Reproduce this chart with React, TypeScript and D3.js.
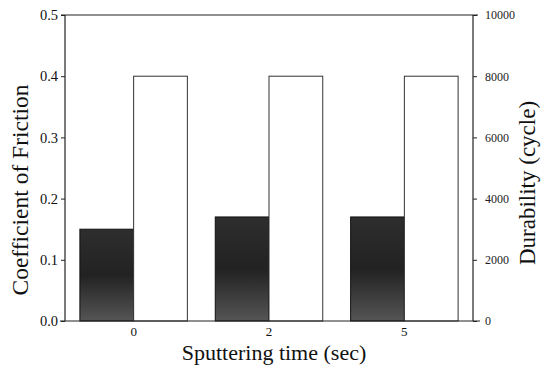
import React, { useEffect, useRef } from "react";
import * as d3 from "d3";

const categories = ["0", "2", "5"];
const frictionValues = [0.15, 0.17, 0.17];
const durabilityValues = [8000, 8000, 8000];
const leftTicks = [0, 0.1, 0.2, 0.3, 0.4, 0.5];
const rightTicks = [0, 2000, 4000, 6000, 8000, 10000];

const W = 545;
const H = 368;
const L = 65;
const R = 473;
const T = 15;
const B = 321;

export default function App() {
  const ref = useRef<SVGSVGElement>(null);
  useEffect(() => {
    const svg = d3.select(ref.current);
    svg.selectAll("*").remove();
    const font = "'Liberation Serif', 'Times New Roman', serif";

    const x = d3.scaleBand<string>().domain(categories).range([L, R]).paddingInner(0.206).paddingOuter(0.11);
    const xi = d3.scaleBand<string>().domain(["f", "d"]).range([0, x.bandwidth()]);
    const yL = d3.scaleLinear().domain([0, 0.5]).range([B, T]);
    const yR = d3.scaleLinear().domain([0, 10000]).range([B, T]);

    const defs = svg.append("defs");
    const g = defs.append("linearGradient").attr("id", "dark").attr("x1", 0).attr("y1", 0).attr("x2", 0).attr("y2", 1);
    g.append("stop").attr("offset", "0%").attr("stop-color", "#2e2e2e");
    g.append("stop").attr("offset", "50%").attr("stop-color", "#222");
    g.append("stop").attr("offset", "100%").attr("stop-color", "#555");

    // bars
    svg.append("g").selectAll("rect").data(categories).join("rect")
      .attr("x", (d) => x(d)! + xi("f")!)
      .attr("y", (_d, i) => yL(frictionValues[i]))
      .attr("width", xi.bandwidth())
      .attr("height", (_d, i) => B - yL(frictionValues[i]))
      .attr("fill", "url(#dark)")
      .attr("stroke", "#111")
      .attr("stroke-width", 1);
    svg.append("g").selectAll("rect").data(categories).join("rect")
      .attr("x", (d) => x(d)! + xi("d")!)
      .attr("y", (_d, i) => yR(durabilityValues[i]))
      .attr("width", xi.bandwidth())
      .attr("height", (_d, i) => B - yR(durabilityValues[i]))
      .attr("fill", "#fff")
      .attr("stroke", "#333")
      .attr("stroke-width", 1);

    // frame lines
    const line = (x1: number, y1: number, x2: number, y2: number, w = 1.2) =>
      svg.append("line").attr("x1", x1).attr("y1", y1).attr("x2", x2).attr("y2", y2)
        .attr("stroke", "#222").attr("stroke-width", w);
    line(L, T, L, B);
    line(R, T, R, B);
    line(61, T, R + 5, T);
    line(60, B, 480, B);

    // left axis
    const la = d3.axisLeft(yL).tickValues(leftTicks).tickFormat(d3.format(".1f")).tickSize(4).tickPadding(3);
    const lg = svg.append("g").attr("transform", `translate(${L},0)`).call(la)
      .attr("font-family", font).attr("font-size", 14.5);
    lg.select(".domain").remove();
    lg.selectAll("line").attr("stroke", "#222");
    lg.selectAll("text").style("font-family", font).attr("fill", "#111");

    // right axis
    const ra = d3.axisRight(yR).tickValues(rightTicks).tickFormat(d3.format("d")).tickSize(4).tickPadding(8);
    const rg = svg.append("g").attr("transform", `translate(${R},0)`).call(ra)
      .attr("font-family", font).attr("font-size", 12);
    rg.select(".domain").remove();
    rg.selectAll("line").attr("stroke", "#222");
    rg.selectAll("text").style("font-family", font).attr("fill", "#222");

    // bottom labels
    const ba = d3.axisBottom(x).tickSize(0).tickPadding(6);
    const bg = svg.append("g").attr("transform", `translate(0,${B})`).call(ba)
      .attr("font-family", font).attr("font-size", 13);
    bg.select(".domain").remove();
    bg.selectAll("text").style("font-family", font).attr("fill", "#111");

    // titles
    svg.append("text").attr("x", 274).attr("y", 360).attr("text-anchor", "middle")
      .style("font-family", font).attr("font-size", 22).attr("fill", "#111").text("Sputtering time (sec)");
    svg.append("text").attr("transform", "translate(28,190) rotate(-90)").attr("text-anchor", "middle")
      .style("font-family", font).attr("font-size", 23.5).attr("fill", "#111").text("Coefficient of Friction");
    svg.append("text").attr("transform", "translate(535,183) rotate(-90)").attr("text-anchor", "middle")
      .style("font-family", font).attr("font-size", 23).attr("fill", "#111").text("Durability (cycle)");
  }, []);
  return (
    <svg ref={ref} width={W} height={H} style={{ position: "absolute", left: 0, top: 0, background: "#fff" }} />
  );
}
